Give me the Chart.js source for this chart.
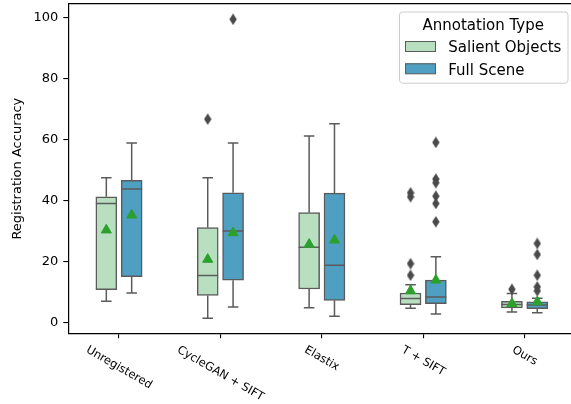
<!DOCTYPE html>
<html><head><meta charset="utf-8">
<script src="https://cdn.jsdelivr.net/npm/chart.js@4.4.1/dist/chart.umd.min.js"></script>
<style>html,body{margin:0;padding:0;overflow:hidden;background:#fff;width:571px;height:404px}canvas{display:block}</style>
</head><body>
<canvas id="c" width="580" height="404"></canvas>
<script>
// ---- data ----
const categories = ['Unregistered', 'CycleGAN + SIFT', 'Elastix', 'T + SIFT', 'Ours'];
const seriesNames = ['Salient Objects', 'Full Scene'];
const yTicks = [0, 20, 40, 60, 80, 100];

const salientLow    = [7.1, 1.5, 5.0, 4.8, 3.6];
const salientQ1     = [10.9, 9.0, 11.1, 6.0, 4.9];
const salientMedian = [39.1, 15.5, 24.8, 8.0, 6.0];
const salientQ3     = [41.3, 31.2, 36.1, 9.8, 7.1];
const salientHigh   = [47.5, 47.5, 61.2, 12.5, 9.6];
const salientMean   = [30.4, 20.8, 25.7, 10.5, 6.3];
const salientOutliers = [[], [66.7], [], [42.6, 41.3, 19.4, 15.6], [11.0]];

const fullLow    = [9.8, 5.2, 2.2, 2.9, 3.3];
const fullQ1     = [15.1, 14.0, 7.4, 6.3, 4.7];
const fullMedian = [43.8, 30.1, 18.9, 8.5, 5.9];
const fullQ3     = [46.7, 42.6, 42.5, 14.0, 6.9];
const fullHigh   = [58.9, 58.9, 65.2, 21.7, 8.1];
const fullMean   = [35.3, 29.5, 27.1, 14.0, 6.9];
const fullOutliers = [[], [99.4], [], [59.1, 47.1, 45.9, 41.5, 39.1, 33.1], [26.0, 22.4, 15.6, 11.8, 10.5]];

// ---- styling ----
const FONT = '"DejaVu Sans", sans-serif';
const COL_SAL = '#b8dfc0', COL_FULL = '#4f9fc3', EDGE = '#5b5b5b', FLIER = '#4a4a4a', MEANC = '#2ca02c';
const OFF = 0.125, HALF = 0.1035, CAP = 0.052;

const diamond = document.createElement('canvas');
diamond.width = 8; diamond.height = 12;
(function(){ const g = diamond.getContext('2d'); g.fillStyle = FLIER; g.beginPath();
  g.moveTo(4,0.3); g.lineTo(7.7,6); g.lineTo(4,11.7); g.lineTo(0.3,6); g.closePath(); g.fill(); })();

function boxes(q1, q3, off){ return categories.map((c,i)=>({x:i+off, y:[q1[i], q3[i]]})); }
function segs(low, q1, med, q3, high, off){
  const d = [];
  categories.forEach((c,i)=>{
    const x = i+off, gap = {x:x, y:null};
    d.push({x:x, y:low[i]}, {x:x, y:q1[i]}, gap);
    d.push({x:x-CAP, y:low[i]}, {x:x+CAP, y:low[i]}, gap);
    d.push({x:x, y:q3[i]}, {x:x, y:high[i]}, gap);
    d.push({x:x-CAP, y:high[i]}, {x:x+CAP, y:high[i]}, gap);
    d.push({x:x-HALF, y:med[i]}, {x:x+HALF, y:med[i]}, gap);
  });
  return d;
}
function pts(vals, off){ return categories.flatMap((c,i)=>vals[i].map(v=>({x:i+off, y:v}))); }
function means(vals, off){ return categories.map((c,i)=>({x:i+off, y:vals[i]})); }

const lineDs = (data)=>({type:'line', data, borderColor:EDGE, borderWidth:1.5, pointRadius:0, fill:false, spanGaps:false, tension:0, order:3, borderCapStyle:'butt'});
const flierDs = (data)=>({type:'scatter', data, pointStyle:diamond, pointRadius:5, order:2});
const meanDs = (data)=>({type:'scatter', data, pointStyle:'triangle', pointRadius:5.8, backgroundColor:MEANC, borderColor:MEANC, borderWidth:1, order:1});

const extras = {
  id:'extras',
  afterDraw(chart){
    const ctx = chart.ctx, xs = chart.scales.x;
    ctx.save();
    // x tick labels rotated -30deg (clockwise), centered on tick
    ctx.font = '11.5px ' + FONT; ctx.fillStyle = '#000';
    const ang = 30*Math.PI/180, h = 11.5*1.17;
    categories.forEach((lab,i)=>{
      const w = ctx.measureText(lab).width;
      const H = w*Math.sin(ang) + h*Math.cos(ang);
      const cx = xs.getPixelForValue(i), cy = xs.top + 10 + H/2;
      ctx.save(); ctx.translate(cx, cy); ctx.rotate(ang);
      ctx.textAlign = 'center'; ctx.textBaseline = 'middle'; ctx.fillText(lab, 0, 0); ctx.restore();
    });
    // legend
    const lx = 399, ly = 11.5, lw = 168.5, lh = 71.2;
    ctx.beginPath(); ctx.roundRect(lx+0.5, ly+0.5, lw, lh, 3);
    ctx.fillStyle = 'rgba(255,255,255,0.8)'; ctx.fill();
    ctx.strokeStyle = '#cccccc'; ctx.lineWidth = 1; ctx.stroke();
    ctx.fillStyle = '#000'; ctx.font = '15px ' + FONT; ctx.textAlign = 'center'; ctx.textBaseline = 'alphabetic';
    ctx.fillText('Annotation Type', lx + lw/2, 29.5);
    const cols = [COL_SAL, COL_FULL], rowsY = [41, 63.3];
    seriesNames.forEach((n,k)=>{
      ctx.fillStyle = cols[k]; ctx.fillRect(405, rowsY[k], 30.5, 10.5);
      ctx.strokeStyle = EDGE; ctx.lineWidth = 1; ctx.strokeRect(405.5, rowsY[k]+0.5, 30, 10);
      ctx.fillStyle = '#000'; ctx.textAlign = 'left'; ctx.fillText(n, 448.3, rowsY[k] + 11.2);
    });
    ctx.restore();
  }
};

new Chart(document.getElementById('c'), {
  type: 'bar',
  data: { datasets: [
    {type:'bar', label:seriesNames[0], data:boxes(salientQ1, salientQ3, -OFF), backgroundColor:COL_SAL, borderColor:EDGE, borderWidth:1.5, borderSkipped:false, barThickness:21, grouped:false, order:4},
    {type:'bar', label:seriesNames[1], data:boxes(fullQ1, fullQ3, OFF), backgroundColor:COL_FULL, borderColor:EDGE, borderWidth:1.5, borderSkipped:false, barThickness:21, grouped:false, order:4},
    lineDs(segs(salientLow, salientQ1, salientMedian, salientQ3, salientHigh, -OFF)),
    lineDs(segs(fullLow, fullQ1, fullMedian, fullQ3, fullHigh, OFF)),
    flierDs(pts(salientOutliers, -OFF)),
    flierDs(pts(fullOutliers, OFF)),
    meanDs(means(salientMean, -OFF)),
    meanDs(means(fullMean, OFF))
  ]},
  options: {
    responsive:false, animation:false, devicePixelRatio:1, events:[],
    layout:{autoPadding:false, padding:{left:0, right:4.7, top:4, bottom:0}},
    plugins:{legend:{display:false}, tooltip:{enabled:false}},
    scales:{
      x:{type:'linear', position:'bottom', min:-0.5, max:4.5, offset:false,
        afterBuildTicks:s=>{ s.ticks = categories.map((c,i)=>({value:i})); },
        afterFit:s=>{ s.height = 404 - 333.3; s.paddingLeft = 0; s.paddingRight = 0; },
        ticks:{display:false},
        grid:{offset:false, drawOnChartArea:false, drawTicks:true, tickLength:5, color:'#000', lineWidth:1.1},
        border:{display:true, color:'#000', width:1.2}},
      xTop:{type:'linear', position:'top', min:-0.5, max:4.5, offset:false,
        afterFit:s=>{ s.height = 0; s.paddingLeft = 0; s.paddingRight = 0; },
        ticks:{display:false}, grid:{display:false, drawTicks:false, offset:false},
        border:{display:true, color:'#000', width:1.2}},
      y:{type:'linear', position:'left', min:-3.4, max:104.4,
        afterBuildTicks:s=>{ s.ticks = yTicks.map(v=>({value:v})); },
        afterFit:s=>{ s.width = 68.3; s.paddingTop = 0; s.paddingBottom = 0; },
        ticks:{font:{family:FONT, size:13, lineHeight:0.5}, color:'#000', padding:5, callback:v=>String(v)},
        grid:{drawOnChartArea:false, drawTicks:true, tickLength:5, color:'#000', lineWidth:1.1},
        border:{display:true, color:'#000', width:1.2},
        title:{display:true, text:'Registration Accuracy', font:{family:FONT, size:13}, color:'#000', padding:{top:10, bottom:0}}}
    }
  },
  plugins:[extras]
});
</script>
</body></html>
